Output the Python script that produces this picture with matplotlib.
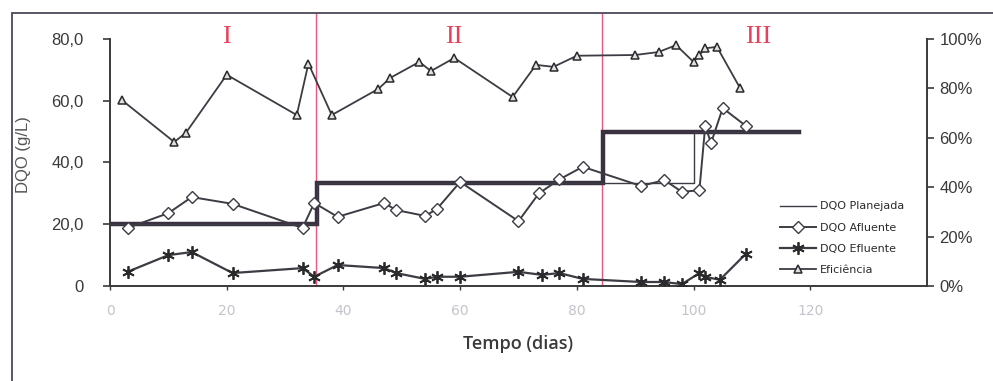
import matplotlib
matplotlib.use("Agg")
import matplotlib.pyplot as plt
from matplotlib.patches import Rectangle

# data
dias_plan = [0, 35.5, 35.5, 100, 100, 118]
dqo_plan = [20, 20, 33.3, 33.3, 50, 50]
dias_plan_grossa = [0, 35.5, 35.5, 84.5, 84.5, 118]
dqo_plan_grossa = [20, 20, 33.3, 33.3, 50, 50]

dias_afl = [3, 10, 14, 21, 33, 35, 39, 47, 49, 54, 56, 60, 70, 73.5, 77, 81,
            91, 95, 98, 101, 102, 103, 105, 109]
dqo_afl = [18.8, 23.6, 28.8, 26.6, 18.8, 26.9, 22.4, 26.9, 24.6, 22.7, 24.9,
           33.7, 21.0, 30.0, 34.5, 38.6, 32.4, 34.3, 30.5, 31.0, 51.8, 46.3,
           57.6, 51.8]

dias_efl = [3, 10, 14, 21, 33, 35, 39, 47, 49, 54, 56, 60, 70, 74, 77, 81,
            91, 95, 98, 101, 102, 104.5, 109]
dqo_efl = [4.6, 10.0, 11.0, 4.2, 5.8, 3.0, 6.8, 5.8, 4.2, 2.3, 3.0, 3.0,
           4.6, 3.6, 4.2, 2.3, 1.3, 1.3, 0.6, 4.2, 3.0, 2.0, 10.5]

dias_efi = [2, 11, 13, 20, 32, 34, 38, 46, 48, 53, 55, 59, 69, 73, 76, 80,
            90, 94, 97, 100, 101, 102, 104, 108]
eficiencia = [0.753, 0.583, 0.62, 0.855, 0.692, 0.90, 0.692, 0.798, 0.842,
              0.907, 0.87, 0.923, 0.765, 0.895, 0.887, 0.932, 0.935, 0.947,
              0.975, 0.907, 0.935, 0.962, 0.968, 0.80]

fases = ["I", "II", "III"]
fases_x = [20, 59, 111]
limites_fase = [35.3, 84.3]

yticks = [0, 20, 40, 60, 80]
ytick_labels = ["0", "20,0", "40,0", "60,0", "80,0"]
pct_ticks = [0, 0.2, 0.4, 0.6, 0.8, 1.0]
pct_labels = ["0%", "20%", "40%", "60%", "80%", "100%"]
xticks = [0, 20, 40, 60, 80, 100, 120]

cor_linha = "#3c3c44"
cor_texto = "#3a3a3a"

fig = plt.figure(figsize=(9.93, 3.81), dpi=100)
ax = fig.add_axes([0.1108, 0.2493, 0.8227, 0.7166])
ax2 = ax.twinx()

ytop = 88.4
ax.set_xlim(0, 140)
ax.set_ylim(0, ytop)
ax2.set_ylim(0, ytop / 80)

# moldura externa
fig.patches.append(Rectangle((12 / 993, -0.1), 1.2, 1.1 - 13 / 381,
                             transform=fig.transFigure, fill=False,
                             edgecolor="#4a4a58", lw=1.3, zorder=0))

for xv in limites_fase:
    ax.axvline(xv, color="#e8587e", lw=1.0, zorder=1)

ax.plot(dias_plan_grossa, dqo_plan_grossa, color="#3a3040", lw=3.2,
        solid_joinstyle="miter", zorder=2)
l1, = ax.plot(dias_plan, dqo_plan, color=cor_linha, lw=1.0, zorder=2,
              label="DQO Planejada")
l2, = ax.plot(dias_afl, dqo_afl, color=cor_linha, lw=1.4, marker="D",
              markersize=6.5, markerfacecolor="white", markeredgecolor=cor_linha,
              markeredgewidth=1.0, zorder=4, label="DQO Afluente")
l3, = ax.plot(dias_efl, dqo_efl, color=cor_linha, lw=1.6, marker=(6, 2, 0),
              markersize=9, markeredgecolor="#2a2a2a", markeredgewidth=1.3,
              zorder=4, label="DQO Efluente")
l4, = ax2.plot(dias_efi, eficiencia, color=cor_linha, lw=1.3, marker="^",
               markersize=6, markerfacecolor="#e0e0e0", markeredgecolor="#2a2a2a",
               markeredgewidth=1.1, zorder=4, label="Eficiência")

for nome, xv in zip(fases, fases_x):
    ax.text(xv, 80.5, nome, color="#e8405a", fontsize=19, ha="center",
            va="center", family="Liberation Serif")

for a in (ax, ax2):
    a.spines["top"].set_visible(False)
ax.spines["right"].set_visible(False)
ax2.spines["left"].set_visible(False)
ax.spines["left"].set_bounds(0, 80)
ax2.spines["right"].set_bounds(0, 1.0)
for sp in (ax.spines["left"], ax.spines["bottom"], ax2.spines["right"]):
    sp.set_color("#3a3a3a")
    sp.set_linewidth(1.4)
ax2.spines["bottom"].set_visible(False)

ax.set_yticks(yticks)
ax.set_yticklabels(ytick_labels)
ax.tick_params(axis="y", direction="out", length=5, width=1.2, colors="#3a3a3a",
               labelsize=12, pad=14)
ax.set_xticks(xticks)
ax.tick_params(axis="x", direction="out", length=3, width=1.0, colors="#3a3a3a",
               labelcolor="#c4c4cc", labelsize=10, pad=10)
ax2.set_yticks(pct_ticks)
ax2.set_yticklabels(pct_labels)
ax2.tick_params(axis="y", direction="out", length=5, width=1.2, colors="#3a3a3a",
                labelsize=12, pad=4)
for lab in ax.get_yticklabels() + ax2.get_yticklabels():
    lab.set_family("Liberation Sans")

ax.set_xlabel("Tempo (dias)", fontsize=13, color=cor_texto, labelpad=12,
              family="Open Sans", fontweight="semibold")
ax.set_ylabel("DQO (g/L)", fontsize=12, color="#555555", labelpad=2,
              family="Liberation Sans")
ax.yaxis.set_label_coords(-0.097, 0.48)

fig.legend(handles=[l1, l2, l3, l4], loc="upper left",
           bbox_to_anchor=(0.781, 1 - 197 / 381), frameon=False, fontsize=8,
           handlelength=3.2, labelspacing=1.0, handletextpad=0.4,
           borderaxespad=0, labelcolor="#2a2a2a")

fig.savefig("out.png", dpi=100, facecolor="white")
